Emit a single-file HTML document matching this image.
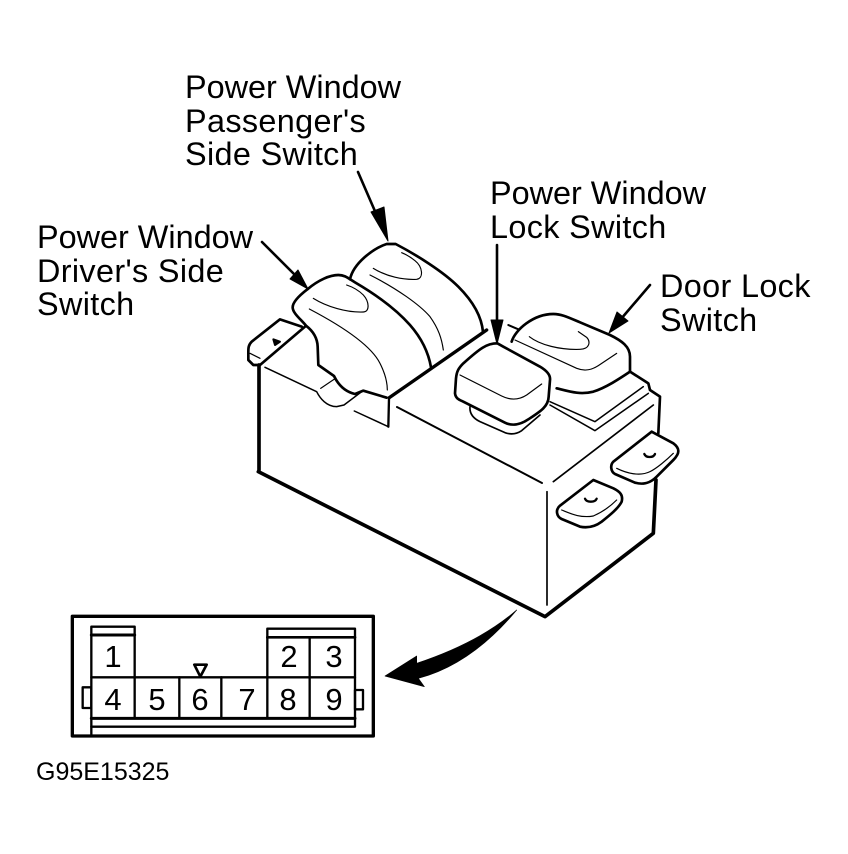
<!DOCTYPE html>
<html><head><meta charset="utf-8"><style>
html,body{margin:0;padding:0;background:#fff;width:848px;height:854px;overflow:hidden}
svg{display:block}
text{font-family:"Liberation Sans",sans-serif;fill:#000}
.l{font-size:32.4px}
.s{letter-spacing:.35px}
path,polyline,line,rect{fill:none;stroke:#000;stroke-linejoin:round;stroke-linecap:round}
</style></head><body>
<svg width="848" height="854" viewBox="0 0 848 854" xmlns="http://www.w3.org/2000/svg">
<text class="l" x="185" y="98">Power Window</text>
<text class="l s" x="185" y="132">Passenger's</text>
<text class="l s" x="185" y="165">Side Switch</text>
<text class="l" x="37" y="248">Power Window</text>
<text class="l s" x="37" y="282">Driver's Side</text>
<text class="l s" x="37" y="315">Switch</text>
<text class="l" x="490" y="204">Power Window</text>
<text class="l s" x="490" y="238">Lock Switch</text>
<text class="l s" x="660" y="297">Door Lock</text>
<text class="l s" x="660" y="331">Switch</text>
<text x="36" y="780" font-size="25">G95E15325</text>

<!-- label arrows -->
<line x1="358" y1="172" x2="384" y2="232" stroke-width="2.6"/>
<path d="M388 241 L371 212 L384 207 Z" style="fill:#000" stroke-width="1"/>
<line x1="262" y1="242" x2="302" y2="282" stroke-width="2.6"/>
<path d="M308 289 L290 279 L298 270 Z" style="fill:#000" stroke-width="1"/>
<line x1="497" y1="245" x2="497" y2="335" stroke-width="2.6"/>
<path d="M497 344 L491 320 L503 320 Z" style="fill:#000" stroke-width="1"/>
<line x1="650" y1="285" x2="615" y2="326" stroke-width="2.6"/>
<path d="M609 333 L617 312 L628 321 Z" style="fill:#000" stroke-width="1"/>

<!-- left part -->
<g transform="translate(230,230) scale(.33333)">
<g stroke-width="8">
<path d="M232 178 C210 195 188 215 188 232 C188 250 215 270 228 287 C245 300 262 320 263 350 L265 405 L312 438 C325 465 345 485 375 492 L400 482 L470 503"/>
<path d="M232 178 C265 150 300 135 325 135 C345 135 355 145 375 157 C440 195 500 240 540 285 C575 325 595 365 603 412"/>
<path d="M360 148 C370 100 430 55 470 42 L497 42 C560 75 640 125 685 170 C730 215 755 260 759 306"/>
<path d="M478 503 L770 300" stroke-width="10"/>
<path d="M215 290 L150 268 L65 335 C55 345 55 355 55 365 L55 390 L70 405 L90 405 L225 290"/>
<line x1="87" y1="405" x2="87" y2="720" stroke-width="11"/>
<line x1="477" y1="505" x2="475" y2="590" stroke-width="7"/>
<path d="M130 328 L150 335 L135 345 Z" style="fill:#000" stroke-width="6"/>
</g>
<g stroke-width="3.5">
<path d="M250 205 C290 230 350 248 400 246 C420 245 418 215 400 195 C385 180 365 170 350 165"/>
<path d="M238 237 C320 280 420 340 450 400 C465 430 472 455 472 480"/>
<path d="M430 115 C470 140 520 150 560 148 C582 145 578 110 555 92 C540 80 525 72 515 68"/>
<path d="M420 135 C500 175 570 225 600 260 C625 295 635 325 640 360"/>
<path d="M105 412 L260 485 C270 505 290 530 320 530 L342 525 L395 485" stroke-width="4.5"/>
<path d="M272 475 L312 448"/>
<path d="M373 543 L475 590" stroke-width="4.5"/>
<path d="M60 370 L90 385"/>
</g>
</g>
<line x1="397" y1="407" x2="542" y2="483" stroke-width="2"/>

<!-- right part -->
<g transform="translate(440,300) scale(.33333)">
<g stroke-width="8">
<path d="M172 130 C140 130 120 145 70 190 C55 205 50 215 48 235 L45 280 C47 295 55 298 70 305 L195 368 C215 378 240 375 265 358 C300 335 325 320 326 290 L330 240 C332 225 320 212 300 200 L190 140 Z"/>
<path d="M215 125 C225 90 280 42 340 42 C365 42 385 52 420 67 L510 105 C545 122 570 140 570 170 L570 215"/>
<path d="M350 265 C390 275 420 285 460 275 C500 262 540 235 570 215 L625 250 L630 270 L660 290 L655 400"/>
<path d="M635 395 L520 485 C510 495 512 515 525 522 L585 548 C610 555 630 550 650 530 L700 480 C720 460 720 445 700 430 Z"/>
<path d="M460 540 L360 617 C345 630 350 650 365 657 L420 680 C445 685 465 680 485 665 C510 645 535 625 545 605 C550 585 540 575 520 565 Z"/>
<path d="M205 75 L235 88" stroke-width="6"/>
<path d="M613 462 C618 474 640 474 645 462" stroke-width="7"/>
<path d="M435 596 C440 608 465 608 470 596" stroke-width="7"/>
</g>
<g stroke-width="3.5">
<path d="M60 225 L185 288 C215 303 240 298 260 285 L305 252"/>
<path d="M90 320 C88 340 100 355 120 365 L195 398 C215 405 230 402 245 392 L300 345" stroke-width="5"/>
<path d="M225 120 L410 205 C435 215 455 210 475 197 L530 160"/>
<path d="M268 110 C300 135 360 150 420 148 C450 147 452 125 440 112 L415 95"/>
<path d="M330 305 L465 365 L610 260" stroke-width="4.5"/>
<path d="M330 315 L465 392 L625 280" stroke-width="4.5"/>
<path d="M530 505 C560 520 600 530 630 515 C650 505 680 480 700 460"/>
<path d="M365 630 C390 640 420 655 460 648 C490 635 515 615 530 600"/>
<path d="M340 545 L640 315" stroke-width="5"/>
</g>
</g>

<!-- bottom of body and curved arrow -->
<g transform="translate(250,450) scale(.33333)">
<path d="M25 65 L885 500 L1210 250 L1218 90" stroke-width="11"/>
<line x1="891" y1="125" x2="891" y2="465" stroke-width="5"/>
<path d="M800 480 C720 550 620 600 500 640 L500 618 L405 678 L523 710 L505 685 C600 660 700 600 800 480 Z" style="fill:#000" stroke-width="2"/>
</g>

<!-- connector -->
<g transform="translate(60,600) scale(.33333)">
<rect x="37" y="49" width="903" height="359" stroke-width="10"/>
<g stroke-width="7">
<path d="M94 405 L94 80 L224 80 L224 232"/>
<line x1="94" y1="105" x2="224" y2="105" stroke-width="9"/>
<path d="M94 232 L885 232"/>
<path d="M622 232 L622 86 L885 86 L885 380 L94 380"/>
<line x1="622" y1="112" x2="885" y2="112" stroke-width="8"/>
<line x1="94" y1="355" x2="885" y2="355" stroke-width="9"/>
<line x1="749" y1="112" x2="749" y2="355"/>
<line x1="224" y1="232" x2="224" y2="355"/>
<line x1="358" y1="232" x2="358" y2="355"/>
<line x1="484" y1="232" x2="484" y2="355"/>
<line x1="622" y1="232" x2="622" y2="355"/>
<rect x="68" y="262" width="26" height="62"/>
<rect x="885" y="270" width="24" height="58"/>
<path d="M403 194 L440 194 L421 230 Z" stroke-width="8"/>
</g>
</g>
<g font-size="31" text-anchor="middle">
<text x="113" y="667">1</text>
<text x="289" y="667">2</text>
<text x="334" y="667">3</text>
<text x="113" y="710">4</text>
<text x="157" y="710">5</text>
<text x="200" y="710">6</text>
<text x="247" y="710">7</text>
<text x="288" y="710">8</text>
<text x="334" y="710">9</text>
</g>
</svg>
</body></html>
